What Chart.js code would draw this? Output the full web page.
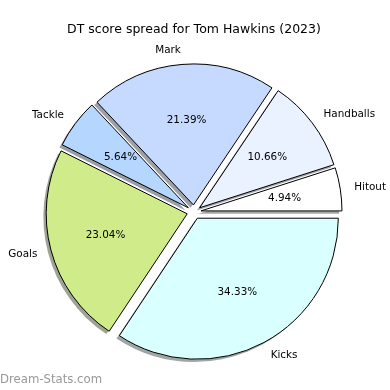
<!DOCTYPE html>
<html lang="en">
<head>
    <meta charset="UTF-8">
    <title>DT score spread</title>
    <style>
        body { margin: 0; background: #fff; }
        #chart-container { width: 390px; height: 390px; }
    </style>
</head>
<body>
    <div id="chart-container">
        <canvas id="dt-chart"></canvas>
    </div>

    <script src="https://cdn.jsdelivr.net/npm/chart.js"></script>
    <script>
        // clockwise from east (matplotlib drew them counter-clockwise)
        const categories = ['Kicks', 'Goals', 'Tackle', 'Mark', 'Handballs', 'Hitout'];
        const shares = [34.33, 23.04, 5.64, 21.39, 10.66, 4.94];
        const colours = ['#d9ffff', '#d0eb8a', '#b5d6ff', '#c6d9ff', '#eaf1ff', '#ffffff'];

        const explode = 0.05;   // fraction of radius
        const shadowShift = 0.02;

        // pushes every wedge out from the centre, like pie(explode=...)
        const explodePlugin = {
            id: 'explode',
            afterDatasetUpdate(chart, args) {
                args.meta.data.forEach(arc => {
                    const mid = (arc.startAngle + arc.endAngle) / 2;
                    const d = explode * arc.outerRadius;
                    arc.x += Math.cos(mid) * d;
                    arc.y += Math.sin(mid) * d;
                });
            }
        };

        function wedgePath(ctx, x, y, r, a0, a1) {
            ctx.beginPath();
            ctx.moveTo(x, y);
            ctx.arc(x, y, r, a0, a1);
            ctx.closePath();
        }

        const shadowPlugin = {
            id: 'shadow',
            beforeDatasetsDraw(chart) {
                const ctx = chart.ctx;
                const arcs = chart.getDatasetMeta(0).data;
                ctx.save();
                arcs.forEach((arc, i) => {
                    const rgb = Chart.helpers.color(colours[i])._rgb;
                    const col = 'rgba(' + Math.round(rgb.r * 0.3) + ',' + Math.round(rgb.g * 0.3) + ',' + Math.round(rgb.b * 0.3) + ',0.5)';
                    const s = shadowShift * arc.outerRadius;
                    wedgePath(ctx, arc.x - s, arc.y + s, arc.outerRadius, arc.startAngle, arc.endAngle);
                    ctx.fillStyle = col;
                    ctx.fill();
                });
                ctx.restore();
            }
        };

        const labelPlugin = {
            id: 'pieLabels',
            afterDatasetsDraw(chart) {
                const ctx = chart.ctx;
                const arcs = chart.getDatasetMeta(0).data;
                ctx.save();
                ctx.font = '10.4px "DejaVu Sans"';
                ctx.fillStyle = '#000';
                ctx.textBaseline = 'middle';
                arcs.forEach((arc, i) => {
                    const mid = (arc.startAngle + arc.endAngle) / 2;
                    const r = arc.outerRadius;
                    const lx = arc.x + Math.cos(mid) * r * 1.1;
                    const ly = arc.y + Math.sin(mid) * r * 1.1;
                    ctx.textAlign = Math.cos(mid) > 0 ? 'left' : 'right';
                    ctx.fillText(categories[i], lx, ly);
                    ctx.textAlign = 'center';
                    ctx.fillText(shares[i].toFixed(2) + '%', arc.x + Math.cos(mid) * r * 0.6, arc.y + Math.sin(mid) * r * 0.6);
                });
                // watermark
                ctx.font = '11.7px "DejaVu Sans"';
                ctx.fillStyle = '#999';
                ctx.textAlign = 'left';
                ctx.fillText('Dream-Stats.com', 0, 380);
                ctx.restore();
            }
        };

        const chart = new Chart(document.getElementById('dt-chart'), {
            type: 'pie',
            data: {
                labels: categories,
                datasets: [{
                    data: shares,
                    backgroundColor: colours,
                    borderColor: '#000',
                    borderWidth: 1
                }]
            },
            options: {
                responsive: true,
                maintainAspectRatio: false,
                animation: false,
                rotation: 90,
                radius: 141,
                layout: { padding: { top: 9, bottom: 10, left: 0, right: 2 } },
                plugins: {
                    legend: { display: false },
                    tooltip: { enabled: false },
                    title: {
                        display: true,
                        text: 'DT score spread for Tom Hawkins (2023)',
                        color: '#000',
                        font: { family: 'DejaVu Sans', size: 12.5, weight: 'normal' },
                        padding: { top: 13, bottom: 7 }
                    }
                }
            },
            plugins: [explodePlugin, shadowPlugin, labelPlugin]
        });
    </script>
</body>
</html>
